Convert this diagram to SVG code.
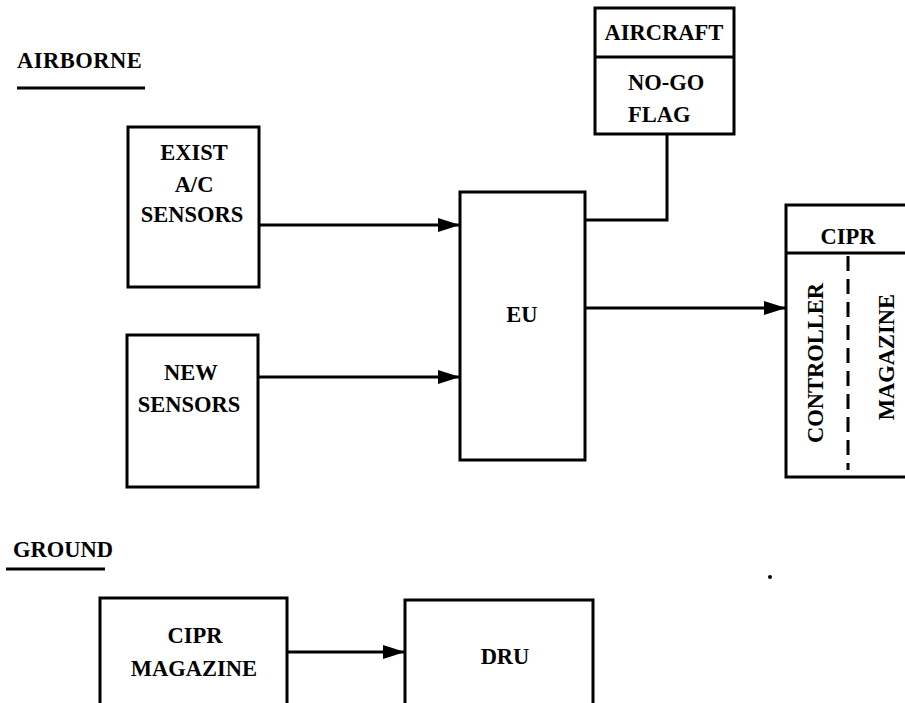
<svg xmlns="http://www.w3.org/2000/svg" width="905" height="703" viewBox="0 0 905 703">
<style>
  .box { fill: none; stroke: #000; stroke-width: 3; stroke-linejoin: miter; }
  .ln { fill: none; stroke: #000; stroke-width: 3; }
  .t { font-family: "Liberation Serif", "DejaVu Serif", serif; font-weight: bold; font-size: 22.5px; fill: #000; }
  .c { text-anchor: middle; }
</style>
<defs>
  <marker id="arr" markerUnits="userSpaceOnUse" markerWidth="24" markerHeight="16" refX="22" refY="8" orient="auto">
    <path d="M0,1 L22,8 L0,15 Z" fill="#000"/>
  </marker>
</defs>
<rect width="905" height="703" fill="#fff"/>

<g id="label-airborne">
  <text class="t" x="17" y="68" font-size="21" letter-spacing="0.5">AIRBORNE</text>
  <line class="ln" x1="17" y1="88" x2="145" y2="88"/>
</g>
<g id="label-ground">
  <text class="t" x="13" y="557" font-size="23">GROUND</text>
  <line class="ln" x1="6" y1="569" x2="105" y2="569"/>
</g>

<g id="exist-sensors">
  <rect class="box" x="128" y="127" width="131" height="160"/>
  <text class="t c" x="194" y="160">EXIST</text>
  <text class="t c" x="194" y="192">A/C</text>
  <text class="t c" x="192" y="222">SENSORS</text>
</g>
<g id="new-sensors">
  <rect class="box" x="127" y="335" width="131" height="152"/>
  <text class="t c" x="191" y="380">NEW</text>
  <text class="t c" x="189" y="412">SENSORS</text>
</g>
<g id="eu">
  <rect class="box" x="460" y="192" width="125" height="268"/>
  <text class="t c" x="522" y="322">EU</text>
</g>
<g id="aircraft">
  <rect class="box" x="595" y="8" width="139" height="126"/>
  <line class="ln" x1="595" y1="57" x2="734" y2="57"/>
  <text class="t c" x="664" y="40">AIRCRAFT</text>
  <text class="t" x="628" y="90">NO-GO</text>
  <text class="t" x="628" y="122">FLAG</text>
</g>
<g id="cipr">
  <path class="box" d="M910,205 H786 V477 H910"/>
  <line class="ln" x1="786" y1="253" x2="910" y2="253"/>
  <line class="ln" x1="848" y1="256" x2="848" y2="470" stroke-dasharray="15,8"/>
  <text class="t c" x="848" y="244">CIPR</text>
  <text class="t c" transform="translate(823,363) rotate(-90)" x="0" y="0">CONTROLLER</text>
  <text class="t c" transform="translate(894,357) rotate(-90)" x="0" y="0">MAGAZINE</text>
</g>
<g id="cipr-magazine">
  <path class="box" d="M100,710 V598 H287 V710"/>
  <text class="t c" x="195" y="643">CIPR</text>
  <text class="t c" x="194" y="676">MAGAZINE</text>
</g>
<g id="dru">
  <path class="box" d="M405,710 V600 H593 V710"/>
  <text class="t c" x="505" y="664">DRU</text>
</g>

<g id="connectors">
  <line class="ln" x1="259" y1="225" x2="460" y2="225" marker-end="url(#arr)"/>
  <line class="ln" x1="258" y1="377" x2="460" y2="377" marker-end="url(#arr)"/>
  <line class="ln" x1="585" y1="308" x2="786" y2="308" marker-end="url(#arr)"/>
  <polyline class="ln" points="585,220 667,220 667,134"/>
  <line class="ln" x1="287" y1="652" x2="405" y2="652" marker-end="url(#arr)"/>
</g>
<circle cx="770" cy="577" r="2" fill="#000"/>
</svg>
